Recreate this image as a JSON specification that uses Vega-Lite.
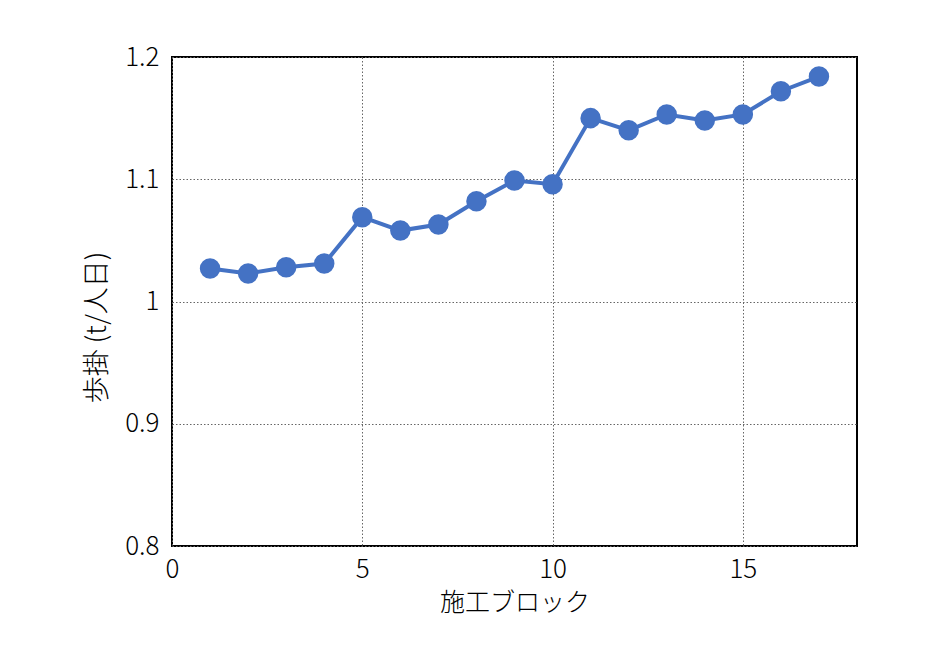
{
  "$schema": "https://vega.github.io/schema/vega-lite/v6.json",
  "autosize": "none",
  "width": 685,
  "height": 489,
  "padding": {"left": 172, "top": 57, "right": 83, "bottom": 119},
  "background": "white",
  "config": {
    "font": "Noto Sans CJK JP",
    "view": {"stroke": "black", "strokeWidth": 2},
    "axis": {
      "labelFont": "Noto Sans CJK JP",
      "titleFont": "Noto Sans CJK JP",
      "labelFontSize": 26,
      "titleFontSize": 25,
      "labelFontWeight": 300,
      "titleFontWeight": 300,
      "labelColor": "black",
      "titleColor": "black",
      "ticks": false,
      "domain": false,
      "gridColor": "#666",
      "gridDash": [1.5, 2],
      "gridWidth": 1
    }
  },
  "data": {
    "values": [
      {"block": 1, "value": 1.027},
      {"block": 2, "value": 1.023},
      {"block": 3, "value": 1.028},
      {"block": 4, "value": 1.031},
      {"block": 5, "value": 1.069},
      {"block": 6, "value": 1.058},
      {"block": 7, "value": 1.063},
      {"block": 8, "value": 1.082},
      {"block": 9, "value": 1.099},
      {"block": 10, "value": 1.096},
      {"block": 11, "value": 1.150},
      {"block": 12, "value": 1.140},
      {"block": 13, "value": 1.153},
      {"block": 14, "value": 1.148},
      {"block": 15, "value": 1.153},
      {"block": 16, "value": 1.172},
      {"block": 17, "value": 1.184}
    ]
  },
  "encoding": {
    "x": {
      "field": "block",
      "type": "quantitative",
      "title": "施工ブロック",
      "scale": {"domain": [0, 18], "nice": false},
      "axis": {"values": [0, 5, 10, 15], "labelPadding": 10, "titlePadding": 8, "labelFlush": false}
    },
    "y": {
      "field": "value",
      "type": "quantitative",
      "title": "歩掛 (t/人日)",
      "scale": {"domain": [0.8, 1.2], "nice": false, "zero": false},
      "axis": {"values": [0.8, 0.9, 1.0, 1.1, 1.2], "labelPadding": 13, "titlePadding": 13, "labelFlush": false,
        "titleFontSize": 27, "titleY": 270,
        "labelExpr": "datum.value == 1 ? '1' : format(datum.value, '.1f')"}
    }
  },
  "layer": [
    {"mark": {"type": "line", "color": "#4472C4", "strokeWidth": 4}},
    {"mark": {"type": "point", "filled": true, "opacity": 1, "color": "#4472C4", "size": 420}}
  ]
}
